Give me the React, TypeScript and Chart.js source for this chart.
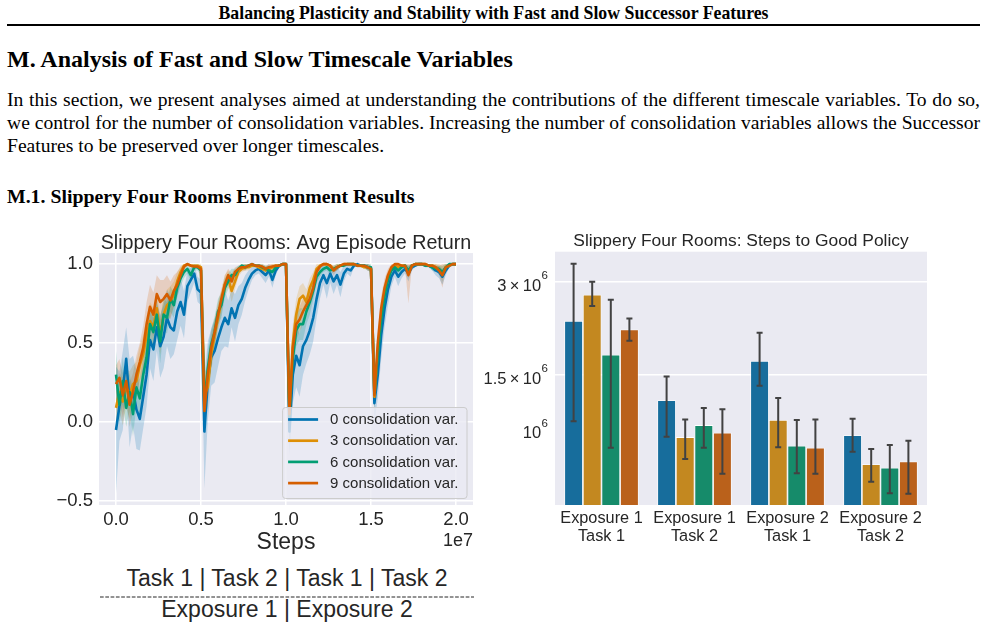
import React, { useEffect, useRef } from "react";
import { Chart, registerables } from "chart.js";

Chart.register(...registerables);

const SANS = '"Liberation Sans", Arial, Helvetica, sans-serif';
const SERIF = '"Liberation Serif", "Times New Roman", Times, serif';
const INK = "#262626";
const PANEL = "#EAEAF2";

// ---------- page text ----------
const RUNNING_HEAD = "Balancing Plasticity and Stability with Fast and Slow Successor Features";
const SECTION_TITLE = "M. Analysis of Fast and Slow Timescale Variables";
const PARAGRAPH_LINES = [
  "In this section, we present analyses aimed at understanding the contributions of the different timescale variables. To do so,",
  "we control for the number of consolidation variables. Increasing the number of consolidation variables allows the Successor",
  "Features to be preserved over longer timescales.",
];
const SUBSECTION_TITLE = "M.1. Slippery Four Rooms Environment Results";

// ---------- left panel: average episode return ----------
const RETURN_TITLE = "Slippery Four Rooms: Avg Episode Return";
const STEPS = Array.from({ length: 101 }, (_, i) => i * 200000);
const RETURN_X_TICKS = [0, 5e6, 1e7, 1.5e7, 2e7];
const RETURN_X_LABELS = ["0.0", "0.5", "1.0", "1.5", "2.0"];
const RETURN_Y_TICKS = [-0.5, 0, 0.5, 1];
const RETURN_Y_LABELS = ["\u22120.5", "0.0", "0.5", "1.0"];
const SERIES_LABELS = [
  "0 consolidation var.",
  "3 consolidation var.",
  "6 consolidation var.",
  "9 consolidation var.",
];
const SERIES_COLORS = ["#0173B2", "#DE8F05", "#029E73", "#D55E00"];
const SERIES_BANDS = [
  "rgba(1,115,178,0.2)",
  "rgba(222,143,5,0.2)",
  "rgba(2,158,115,0.2)",
  "rgba(213,94,0,0.2)",
];
const PHASE_LABELS = "Task 1 | Task 2 | Task 1 | Task 2";
const EXPOSURE_LABELS = "Exposure 1 | Exposure 2";

const RETURN_0 = [
  -0.05, 0.10, 0.20, 0.40, 0.12, 0.20, 0.08, 0.02, 0.16, 0.30, 0.52, 0.46, 0.60, 0.48, 0.54, 0.66, 0.60, 0.58, 0.70, 0.76, 0.68, 0.86, 0.90, 0.94, 0.84, 0.82,
  -0.06, 0.26, 0.41, 0.45, 0.53, 0.60, 0.66, 0.62, 0.72, 0.66, 0.74, 0.78, 0.85, 0.90, 0.94, 0.96, 0.97, 0.95, 0.93, 0.96, 0.90, 0.96, 0.99, 1.00, 1.00,
  -0.06, 0.30, 0.42, 0.36, 0.48, 0.52, 0.58, 0.66, 0.78, 0.88, 0.93, 0.88, 0.94, 0.89, 0.93, 0.87, 0.94, 0.97, 0.96, 0.99, 1.00, 0.99, 0.99, 0.98, 0.97,
  0.12, 0.30, 0.55, 0.72, 0.84, 0.92, 0.96, 0.92, 0.95, 0.97, 0.94, 0.98, 0.99, 1.00, 1.00, 0.99, 0.99, 0.98, 0.96, 0.95, 0.92, 0.96, 0.99, 1.00, 1.00,
];
const RETURN_3 = [
  0.09, 0.19, 0.13, 0.22, 0.17, 0.24, 0.26, 0.36, 0.43, 0.55, 0.64, 0.60, 0.72, 0.55, 0.68, 0.74, 0.76, 0.81, 0.89, 0.95, 0.99, 1.00, 0.99, 0.99, 0.99, 0.98,
  0.17, 0.22, 0.43, 0.55, 0.66, 0.76, 0.87, 0.91, 0.83, 0.89, 0.95, 0.97, 0.98, 0.98, 0.99, 0.99, 0.98, 0.97, 0.96, 0.97, 0.98, 0.99, 0.99, 1.00, 1.00,
  0.08, 0.50, 0.68, 0.78, 0.80, 0.76, 0.85, 0.90, 0.97, 0.99, 1.00, 1.00, 0.99, 0.97, 0.98, 0.99, 1.00, 1.00, 1.00, 1.00, 0.99, 0.99, 0.98, 0.98, 0.97,
  0.16, 0.45, 0.68, 0.82, 0.92, 0.97, 0.99, 0.98, 0.99, 0.99, 0.95, 0.99, 1.00, 1.00, 1.00, 1.00, 0.99, 0.99, 0.98, 0.97, 0.94, 0.98, 0.99, 1.00, 1.00,
];
const RETURN_6 = [
  0.30, 0.11, 0.26, 0.09, 0.19, 0.05, 0.22, 0.15, 0.30, 0.41, 0.62, 0.57, 0.68, 0.51, 0.68, 0.66, 0.78, 0.74, 0.85, 0.91, 0.95, 0.97, 0.93, 0.98, 0.98, 0.96,
  0.11, 0.34, 0.49, 0.57, 0.70, 0.74, 0.85, 0.89, 0.93, 0.93, 0.97, 0.99, 0.98, 0.99, 1.00, 0.99, 0.99, 0.98, 0.97, 0.96, 0.95, 0.98, 0.99, 1.00, 1.00,
  0.04, 0.40, 0.58, 0.62, 0.62, 0.70, 0.76, 0.83, 0.92, 0.95, 0.97, 0.98, 0.96, 0.97, 0.98, 0.99, 0.99, 1.00, 1.00, 1.00, 0.99, 0.99, 0.99, 0.98, 0.98,
  0.18, 0.42, 0.65, 0.80, 0.90, 0.96, 0.98, 0.96, 0.98, 0.99, 0.96, 0.99, 1.00, 1.00, 1.00, 0.99, 0.99, 0.98, 0.97, 0.97, 0.95, 0.98, 1.00, 1.00, 1.00,
];
const RETURN_9 = [
  0.24, 0.28, 0.17, 0.26, 0.11, 0.19, 0.30, 0.38, 0.47, 0.62, 0.73, 0.68, 0.81, 0.76, 0.78, 0.81, 0.77, 0.83, 0.87, 0.93, 0.985, 1.00, 0.99, 0.985, 0.985, 0.97,
  0.07, 0.30, 0.47, 0.57, 0.68, 0.78, 0.87, 0.93, 0.89, 0.95, 0.97, 0.98, 0.98, 0.99, 1.00, 0.99, 0.99, 0.985, 0.97, 0.98, 0.985, 0.99, 0.99, 1.00, 1.00,
  0.05, 0.47, 0.62, 0.65, 0.70, 0.74, 0.78, 0.85, 0.95, 0.985, 1.00, 1.00, 0.99, 0.96, 0.98, 0.99, 1.00, 1.00, 1.00, 1.00, 0.99, 0.99, 0.99, 0.98, 0.97,
  0.17, 0.50, 0.72, 0.85, 0.93, 0.98, 1.00, 1.00, 0.99, 0.99, 0.93, 0.99, 1.00, 1.00, 1.00, 1.00, 0.99, 0.99, 0.98, 0.96, 0.93, 0.98, 0.99, 1.00, 1.00,
];

// half-widths of the confidence bands
const SPREAD_0 = [
  0.40, 0.22, 0.25, 0.20, 0.28, 0.22, 0.25, 0.20, 0.20, 0.20, 0.18, 0.20, 0.15, 0.20, 0.20, 0.18, 0.20, 0.15, 0.18, 0.15, 0.15, 0.10, 0.08, 0.06, 0.08, 0.08,
  0.36, 0.25, 0.18, 0.20, 0.18, 0.15, 0.18, 0.15, 0.12, 0.15, 0.12, 0.10, 0.08, 0.06, 0.04, 0.03, 0.03, 0.04, 0.05, 0.04, 0.05, 0.03, 0.01, 0.01, 0.01,
  0.15, 0.18, 0.20, 0.20, 0.18, 0.15, 0.15, 0.15, 0.12, 0.10, 0.06, 0.10, 0.06, 0.08, 0.06, 0.08, 0.05, 0.03, 0.04, 0.01, 0.01, 0.01, 0.01, 0.02, 0.02,
  0.12, 0.15, 0.15, 0.12, 0.10, 0.06, 0.04, 0.06, 0.04, 0.03, 0.05, 0.02, 0.01, 0.01, 0.01, 0.01, 0.01, 0.02, 0.03, 0.04, 0.05, 0.03, 0.01, 0.01, 0.01,
];
const SPREAD_3 = [
  0.10, 0.12, 0.15, 0.12, 0.15, 0.12, 0.12, 0.12, 0.12, 0.12, 0.12, 0.12, 0.10, 0.12, 0.10, 0.10, 0.10, 0.08, 0.06, 0.04, 0.02, 0.01, 0.01, 0.01, 0.01, 0.02,
  0.15, 0.12, 0.10, 0.10, 0.08, 0.08, 0.06, 0.05, 0.07, 0.05, 0.03, 0.02, 0.02, 0.02, 0.01, 0.01, 0.02, 0.02, 0.03, 0.02, 0.02, 0.01, 0.01, 0.01, 0.01,
  0.08, 0.12, 0.10, 0.08, 0.08, 0.08, 0.06, 0.05, 0.03, 0.01, 0.01, 0.01, 0.01, 0.02, 0.02, 0.01, 0.01, 0.01, 0.01, 0.01, 0.01, 0.01, 0.01, 0.02, 0.02,
  0.08, 0.10, 0.08, 0.06, 0.04, 0.02, 0.01, 0.02, 0.01, 0.01, 0.04, 0.01, 0.01, 0.01, 0.01, 0.01, 0.01, 0.01, 0.02, 0.03, 0.05, 0.02, 0.01, 0.01, 0.01,
];
const SPREAD_6 = [
  0.15, 0.12, 0.15, 0.12, 0.12, 0.14, 0.12, 0.12, 0.12, 0.14, 0.12, 0.12, 0.10, 0.14, 0.10, 0.10, 0.08, 0.08, 0.06, 0.05, 0.04, 0.03, 0.04, 0.02, 0.02, 0.03,
  0.12, 0.12, 0.10, 0.10, 0.08, 0.08, 0.06, 0.05, 0.04, 0.04, 0.02, 0.01, 0.02, 0.01, 0.01, 0.01, 0.01, 0.02, 0.02, 0.03, 0.03, 0.02, 0.01, 0.01, 0.01,
  0.10, 0.12, 0.10, 0.10, 0.10, 0.08, 0.08, 0.06, 0.04, 0.03, 0.02, 0.02, 0.03, 0.02, 0.02, 0.01, 0.01, 0.01, 0.01, 0.01, 0.01, 0.01, 0.01, 0.02, 0.02,
  0.10, 0.10, 0.08, 0.06, 0.04, 0.03, 0.02, 0.03, 0.02, 0.01, 0.03, 0.01, 0.01, 0.01, 0.01, 0.01, 0.01, 0.02, 0.02, 0.02, 0.04, 0.02, 0.01, 0.01, 0.01,
];
const SPREAD_9 = [
  0.12, 0.12, 0.14, 0.12, 0.14, 0.12, 0.12, 0.12, 0.14, 0.14, 0.14, 0.14, 0.12, 0.14, 0.12, 0.12, 0.12, 0.10, 0.08, 0.05, 0.02, 0.01, 0.01, 0.01, 0.01, 0.02,
  0.10, 0.10, 0.10, 0.08, 0.08, 0.06, 0.06, 0.04, 0.05, 0.03, 0.02, 0.02, 0.02, 0.01, 0.01, 0.01, 0.01, 0.02, 0.02, 0.02, 0.02, 0.01, 0.01, 0.01, 0.01,
  0.08, 0.12, 0.10, 0.08, 0.08, 0.06, 0.06, 0.05, 0.03, 0.01, 0.01, 0.01, 0.02, 0.03, 0.02, 0.01, 0.01, 0.01, 0.01, 0.01, 0.01, 0.01, 0.01, 0.02, 0.02,
  0.08, 0.10, 0.08, 0.06, 0.04, 0.02, 0.01, 0.01, 0.01, 0.01, 0.18, 0.01, 0.01, 0.01, 0.01, 0.01, 0.01, 0.01, 0.02, 0.03, 0.08, 0.02, 0.01, 0.01, 0.01,
];

const RETURN_SERIES = [RETURN_0, RETURN_3, RETURN_6, RETURN_9];
const SPREAD_SERIES = [SPREAD_0, SPREAD_3, SPREAD_6, SPREAD_9];

// ---------- right panel: steps to good policy ----------
const POLICY_TITLE = "Slippery Four Rooms: Steps to Good Policy";
const GROUP_LABELS = [
  ["Exposure 1", "Task 1"],
  ["Exposure 1", "Task 2"],
  ["Exposure 2", "Task 1"],
  ["Exposure 2", "Task 2"],
];
const POLICY_0 = [2.24e6, 1.24e6, 1.66e6, 0.956e6];
const POLICY_3 = [2.72e6, 0.942e6, 1.07e6, 0.77e6];
const POLICY_6 = [1.74e6, 1.03e6, 0.883e6, 0.75e6];
const POLICY_9 = [2.1e6, 0.973e6, 0.87e6, 0.786e6];
const POLICY_LOW_0 = [1.06e6, 0.944e6, 1.38e6, 0.845e6];
const POLICY_HIGH_0 = [3.43e6, 1.48e6, 2.05e6, 1.08e6];
const POLICY_LOW_3 = [2.5e6, 0.8e6, 0.874e6, 0.675e6];
const POLICY_HIGH_3 = [3.0e6, 1.075e6, 1.26e6, 0.862e6];
const POLICY_LOW_6 = [0.87e6, 0.87e6, 0.719e6, 0.62e6];
const POLICY_HIGH_6 = [2.62e6, 1.17e6, 1.07e6, 0.888e6];
const POLICY_LOW_9 = [1.93e6, 0.717e6, 0.717e6, 0.618e6];
const POLICY_HIGH_9 = [2.28e6, 1.16e6, 1.075e6, 0.917e6];
const BAR_COLORS = ["#176D9C", "#C38820", "#168B6A", "#BA611B"];
const POLICY_Y_TICKS = [1e6, 1.5e6, 3e6];
const POLICY_Y_BASES = ["10", "1.5\u2009\u00d7\u200910", "3\u2009\u00d7\u200910"];
const POLICY_Y_EXPONENTS = ["6", "6", "6"];
const POLICY_Y_MIN = 0.568e6;
const POLICY_Y_MAX = 3.75e6;

const POLICY_SERIES = [POLICY_0, POLICY_3, POLICY_6, POLICY_9];
const POLICY_LOWS = [POLICY_LOW_0, POLICY_LOW_3, POLICY_LOW_6, POLICY_LOW_9];
const POLICY_HIGHS = [POLICY_HIGH_0, POLICY_HIGH_3, POLICY_HIGH_6, POLICY_HIGH_9];

// ---------- shared plugins ----------
const panelBackground = {
  id: "panelBackground",
  beforeDraw(chart: any) {
    const { ctx, chartArea } = chart;
    ctx.save();
    ctx.fillStyle = PANEL;
    ctx.fillRect(chartArea.left, chartArea.top, chartArea.right - chartArea.left, chartArea.bottom - chartArea.top);
    ctx.restore();
  },
};

const returnLegend = {
  id: "returnLegend",
  afterDatasetsDraw(chart: any) {
    const { ctx, chartArea } = chart;
    ctx.save();
    ctx.font = `15px ${SANS}`;
    const textW = Math.max(...SERIES_LABELS.map((t) => ctx.measureText(t).width));
    const w = 48 + textW + 8;
    const h = 91;
    const x0 = chartArea.right - 6.5 - w;
    const y0 = chartArea.bottom - 7 - h;
    ctx.beginPath();
    ctx.roundRect(x0 + 0.5, y0 + 0.5, w, h, 3);
    ctx.fillStyle = "rgba(234,234,242,0.8)";
    ctx.fill();
    ctx.strokeStyle = "#CCCCCC";
    ctx.lineWidth = 1;
    ctx.stroke();
    SERIES_LABELS.forEach((label, i) => {
      const cy = y0 + 12.5 + i * 21.2;
      ctx.beginPath();
      ctx.moveTo(x0 + 6, cy);
      ctx.lineTo(x0 + 36, cy);
      ctx.strokeStyle = SERIES_COLORS[i];
      ctx.lineWidth = 2.7;
      ctx.stroke();
      ctx.fillStyle = INK;
      ctx.textBaseline = "middle";
      ctx.textAlign = "left";
      ctx.fillText(label, x0 + 48, cy + 0.5);
    });
    ctx.restore();
  },
  afterDraw(chart: any) {
    const { ctx, chartArea } = chart;
    ctx.save();
    ctx.font = `18px ${SANS}`;
    ctx.fillStyle = INK;
    ctx.textAlign = "right";
    ctx.textBaseline = "middle";
    ctx.fillText("1e7", chartArea.right, chartArea.bottom + 36);
    ctx.restore();
  },
};

const errorBars = {
  id: "errorBars",
  afterDatasetsDraw(chart: any) {
    const { ctx } = chart;
    const y = chart.scales.y;
    ctx.save();
    ctx.strokeStyle = "#424242";
    ctx.lineWidth = 2;
    POLICY_LOWS.forEach((lows, i) => {
      const meta = chart.getDatasetMeta(i);
      meta.data.forEach((bar: any, j: number) => {
        const x = bar.x;
        const yl = y.getPixelForValue(lows[j]);
        const yh = y.getPixelForValue(POLICY_HIGHS[i][j]);
        ctx.beginPath();
        ctx.moveTo(x, yl);
        ctx.lineTo(x, yh);
        ctx.moveTo(x - 3, yl);
        ctx.lineTo(x + 3, yl);
        ctx.moveTo(x - 3, yh);
        ctx.lineTo(x + 3, yh);
        ctx.stroke();
      });
    });
    ctx.restore();
  },
};

const logTickLabels = {
  id: "logTickLabels",
  afterDraw(chart: any) {
    const { ctx, chartArea } = chart;
    const y = chart.scales.y;
    ctx.save();
    ctx.fillStyle = INK;
    ctx.textAlign = "right";
    ctx.textBaseline = "alphabetic";
    POLICY_Y_TICKS.forEach((v, i) => {
      const py = y.getPixelForValue(v);
      const right = chartArea.left - 7;
      ctx.font = `11.5px ${SANS}`;
      const ew = ctx.measureText(POLICY_Y_EXPONENTS[i]).width;
      ctx.fillText(POLICY_Y_EXPONENTS[i], right, py + 9 - 11.5);
      ctx.font = `16.5px ${SANS}`;
      ctx.fillText(POLICY_Y_BASES[i], right - ew - 0.5, py + 9);
    });
    ctx.restore();
  },
};

function ReturnChart() {
  const ref = useRef<HTMLCanvasElement>(null);
  useEffect(() => {
    const bands = RETURN_SERIES.flatMap((mean, i) => [
      {
        label: `upper ${i}`,
        data: STEPS.map((x, k) => ({ x, y: Math.min(1, mean[k] + SPREAD_SERIES[i][k]) })),
        borderWidth: 0,
        borderColor: "rgba(0,0,0,0)",
        pointRadius: 0,
        fill: false,
        order: 20 + i,
      },
      {
        label: `lower ${i}`,
        data: STEPS.map((x, k) => ({ x, y: mean[k] - SPREAD_SERIES[i][k] })),
        borderWidth: 0,
        borderColor: "rgba(0,0,0,0)",
        backgroundColor: SERIES_BANDS[i],
        pointRadius: 0,
        fill: "-1",
        order: 20 + i,
      },
    ]);
    const lines = RETURN_SERIES.map((mean, i) => ({
      label: SERIES_LABELS[i],
      data: STEPS.map((x, k) => ({ x, y: mean[k] })),
      borderColor: SERIES_COLORS[i],
      borderWidth: 2.6,
      borderJoinStyle: "round",
      pointRadius: 0,
      fill: false,
      tension: 0,
      order: 4 - i,
    }));
    const chart = new Chart(ref.current!, {
      type: "line",
      data: { datasets: [...bands, ...lines] as any },
      options: {
        responsive: false,
        animation: false,
        devicePixelRatio: 1,
        events: [],
        layout: { padding: { left: 0, right: 17, top: 0, bottom: 0 } },
        plugins: {
          legend: { display: false },
          tooltip: { enabled: false },
          filler: { propagate: false, drawTime: "beforeDatasetsDraw" },
          title: {
            display: true,
            text: RETURN_TITLE,
            fullSize: false,
            color: INK,
            font: { family: SANS, size: 19.7, weight: "normal", lineHeight: 1 },
            padding: { top: 7.35, bottom: 0 },
          },
        },
        scales: {
          x: {
            type: "linear",
            min: -1e6,
            max: 2.1e7,
            afterBuildTicks: (s: any) => {
              s.ticks = RETURN_X_TICKS.map((value) => ({ value }));
              s.min = -1e6;
              s.max = 2.1e7;
            },
            afterFit: (s: any) => {
              s.height = 56;
            },
            ticks: {
              autoSkip: false,
              maxRotation: 0,
              color: INK,
              padding: 4,
              font: { family: SANS, size: 18.5, lineHeight: 1.2 },
              callback: (_v: any, i: number) => RETURN_X_LABELS[i],
            },
            grid: { color: "#FFFFFF", lineWidth: 1.5, drawTicks: false },
            border: { display: false },
            title: {
              display: true,
              text: "Steps",
              color: INK,
              font: { family: SANS, size: 23, lineHeight: 1.2 },
              padding: { top: 0, bottom: 4.5 },
            },
          },
          y: {
            type: "linear",
            min: -0.525,
            max: 1.07,
            afterBuildTicks: (s: any) => {
              s.ticks = RETURN_Y_TICKS.map((value) => ({ value }));
              s.min = -0.525;
              s.max = 1.07;
            },
            afterFit: (s: any) => {
              s.width = 99;
            },
            ticks: {
              autoSkip: false,
              color: INK,
              padding: 6,
              font: { family: SANS, size: 18.5 },
              callback: (_v: any, i: number) => RETURN_Y_LABELS[i],
            },
            grid: { color: "#FFFFFF", lineWidth: 1.5, drawTicks: false },
            border: { display: false },
          },
        },
      } as any,
      plugins: [panelBackground, returnLegend],
    });
    return () => chart.destroy();
  }, []);
  return (
    <canvas
      ref={ref}
      width={490}
      height={335}
      style={{ position: "absolute", left: 0, top: 226, width: 490, height: 335 }}
    />
  );
}

function PolicyChart() {
  const ref = useRef<HTMLCanvasElement>(null);
  useEffect(() => {
    const chart = new Chart(ref.current!, {
      type: "bar",
      data: {
        labels: GROUP_LABELS,
        datasets: POLICY_SERIES.map((data, i) => ({
          label: SERIES_LABELS[i],
          data,
          backgroundColor: BAR_COLORS[i],
          borderColor: "#FFFFFF",
          borderWidth: 0.8,
          barPercentage: 1,
          categoryPercentage: 0.8,
        })),
      },
      options: {
        responsive: false,
        animation: false,
        devicePixelRatio: 1,
        events: [],
        layout: { padding: { left: 0, right: 53, top: 0, bottom: 0 } },
        plugins: {
          legend: { display: false },
          tooltip: { enabled: false },
          title: {
            display: true,
            text: POLICY_TITLE,
            fullSize: false,
            color: INK,
            font: { family: SANS, size: 17.4, weight: "normal", lineHeight: 1.1 },
            padding: { top: 6.13, bottom: 0.43 },
          },
        },
        scales: {
          x: {
            afterFit: (s: any) => {
              s.height = 51;
            },
            ticks: {
              color: INK,
              padding: -3,
              maxRotation: 0,
              autoSkip: false,
              font: { family: SANS, size: 16.3, lineHeight: 1.1 },
            },
            grid: { display: false },
            border: { display: false },
          },
          y: {
            type: "logarithmic",
            min: POLICY_Y_MIN,
            max: POLICY_Y_MAX,
            afterBuildTicks: (s: any) => {
              s.ticks = POLICY_Y_TICKS.map((value) => ({ value }));
              s.min = POLICY_Y_MIN;
              s.max = POLICY_Y_MAX;
            },
            afterFit: (s: any) => {
              s.width = 85;
            },
            ticks: { display: false },
            grid: {
              drawTicks: false,
              lineWidth: 1.5,
              color: (c: any) => (c.tick && c.tick.value === 1e6 ? "rgba(0,0,0,0)" : "#FFFFFF"),
            },
            border: { display: false },
          },
        },
      } as any,
      plugins: [panelBackground, errorBars, logTickLabels],
    });
    return () => chart.destroy();
  }, []);
  return (
    <canvas
      ref={ref}
      width={510}
      height={330}
      style={{ position: "absolute", left: 470, top: 226, width: 510, height: 330 }}
    />
  );
}

export default function App() {
  const abs = (o: React.CSSProperties): React.CSSProperties => ({ position: "absolute", margin: 0, ...o });
  return (
    <div style={abs({ left: 0, top: 0, width: 987, height: 627, background: "#FFFFFF", overflow: "hidden", color: "#000" })}>
      <div style={abs({ left: 0, top: 5.2, width: 987, textAlign: "center", font: `bold 17.8px/17.8px ${SERIF}`, whiteSpace: "nowrap" })}>
        {RUNNING_HEAD}
      </div>
      <div style={abs({ left: 7, top: 24, width: 973, height: 2, background: "#000" })} />
      <div style={abs({ left: 7, top: 47, font: `bold 24px/24px ${SERIF}`, whiteSpace: "nowrap" })}>{SECTION_TITLE}</div>
      {PARAGRAPH_LINES.map((line, i) => (
        <div
          key={i}
          style={abs({
            left: 7,
            top: 87.5 + i * 23.2,
            width: 973,
            font: `19.6px/23.2px ${SERIF}`,
            textAlign: i < 2 ? "justify" : "left",
            textAlignLast: i < 2 ? "justify" : "left",
          })}
        >
          {line}
        </div>
      ))}
      <div style={abs({ left: 7, top: 187, font: `bold 19.8px/19.8px ${SERIF}`, whiteSpace: "nowrap" })}>{SUBSECTION_TITLE}</div>

      <ReturnChart />
      <PolicyChart />

      <div style={abs({ left: 87, top: 567, width: 400, textAlign: "center", color: INK, font: `23px/23px ${SANS}`, whiteSpace: "nowrap" })}>
        {PHASE_LABELS}
      </div>
      <svg style={abs({ left: 100, top: 596, width: 374, height: 2 })} width={374} height={2}>
        <line x1={0} y1={1} x2={374} y2={1} stroke={INK} strokeWidth={1} strokeDasharray="3.7 1.6" />
      </svg>
      <div style={abs({ left: 87, top: 597.5, width: 400, textAlign: "center", color: INK, font: `23px/23px ${SANS}`, whiteSpace: "nowrap" })}>
        {EXPOSURE_LABELS}
      </div>
    </div>
  );
}
